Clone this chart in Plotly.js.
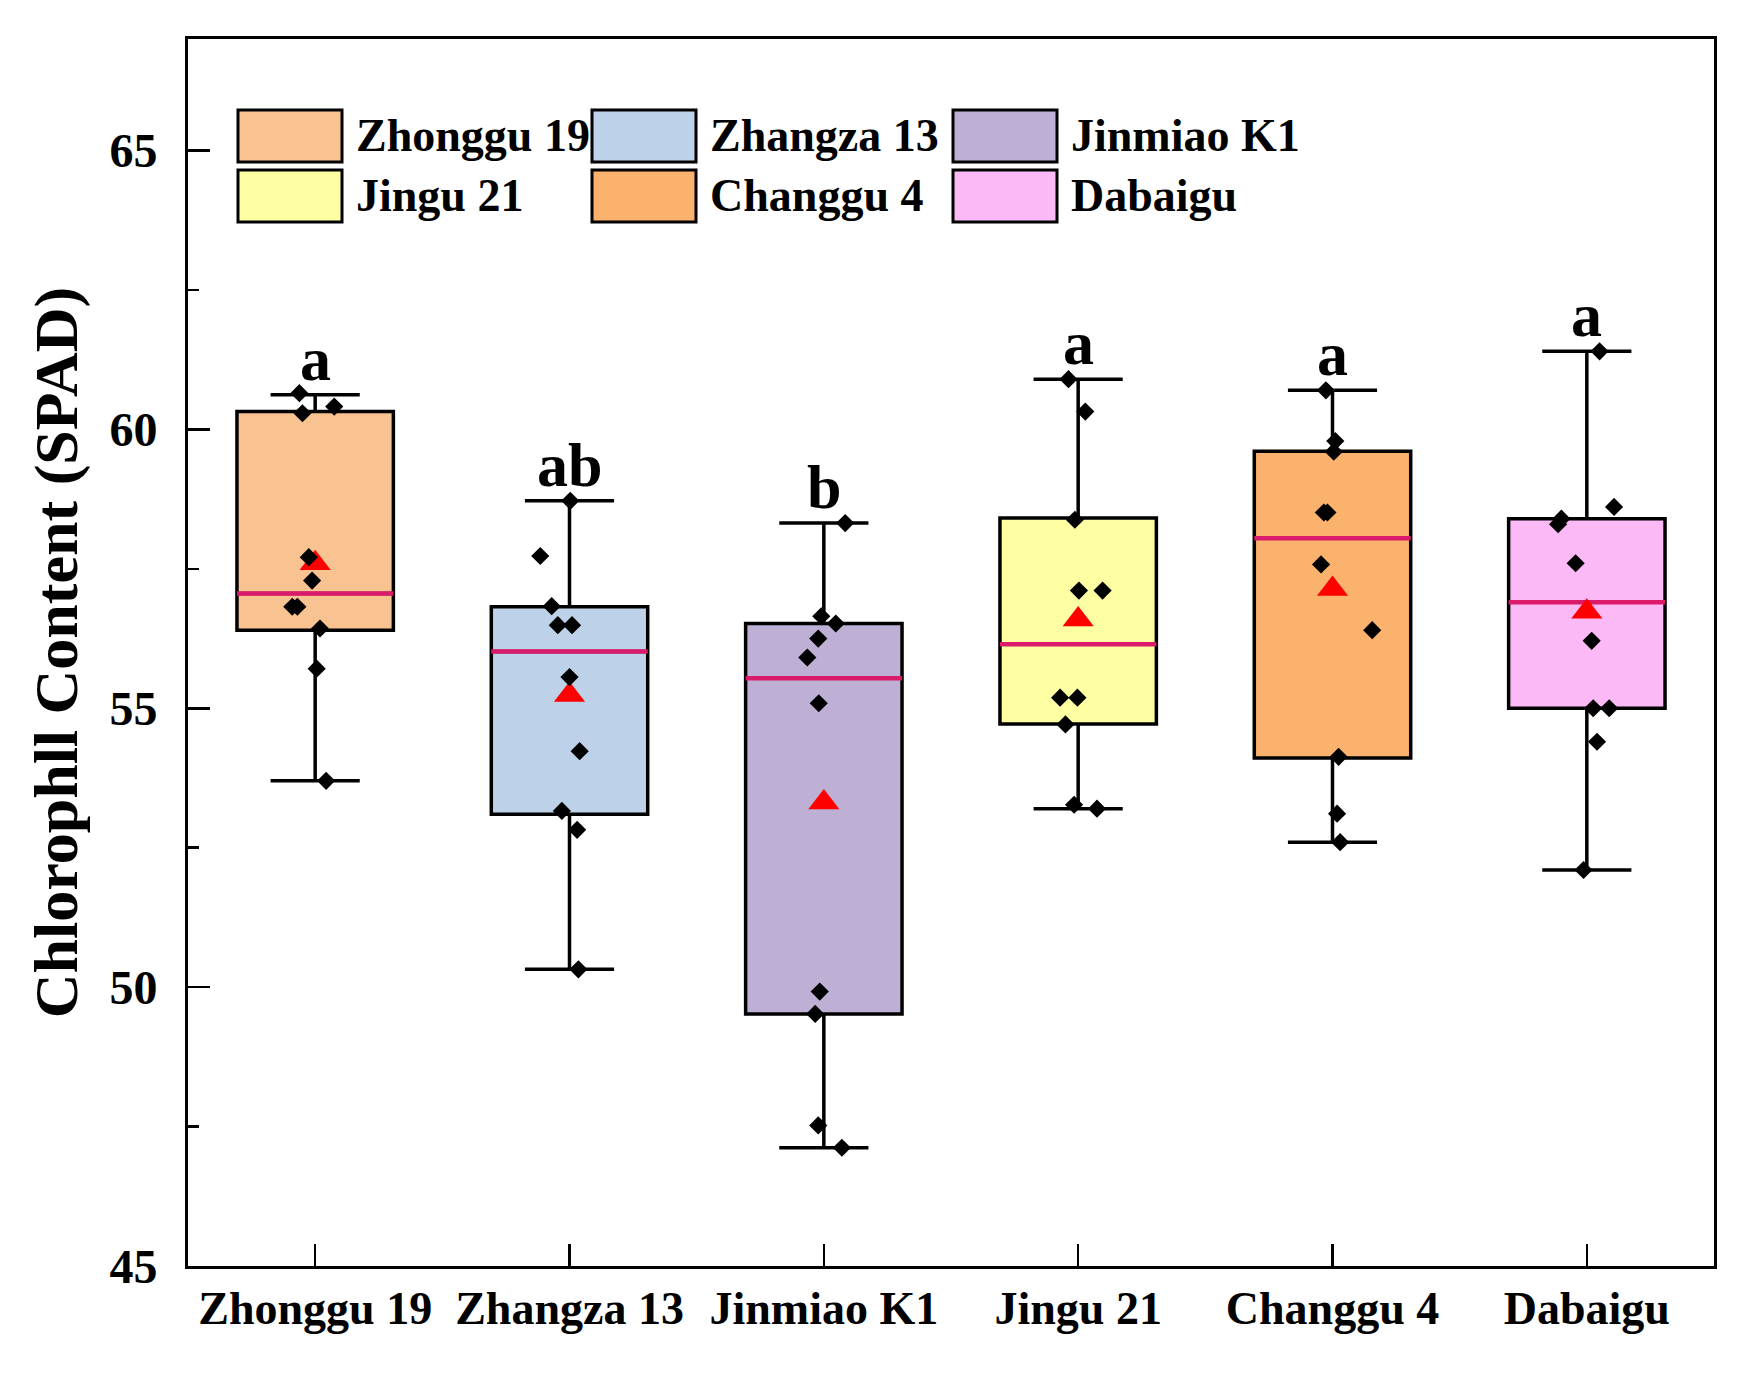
<!DOCTYPE html>
<html>
<head>
<meta charset="utf-8">
<script src="https://cdn.plot.ly/plotly-3.0.1.min.js"></script>
<style>html,body{margin:0;padding:0;background:#fff;}</style>
</head>
<body>
<div id="chart" style="width:1753px;height:1379px;"></div>
<script>
// ---- data ----
const categories = ['Zhonggu 19', 'Zhangza 13', 'Jinmiao K1', 'Jingu 21', 'Changgu 4', 'Dabaigu'];
const q1Values     = [56.40, 53.10, 49.52, 54.72, 54.11, 55.00];
const medianValues = [57.06, 56.02, 55.54, 56.15, 58.05, 56.90];
const q3Values     = [60.32, 56.82, 56.52, 58.41, 59.61, 58.40];
const lowerWhisker = [53.70, 50.32, 47.12, 53.20, 52.60, 52.10];
const upperWhisker = [60.62, 58.72, 58.32, 60.90, 60.70, 61.40];
const meanValues   = [57.60, 55.24, 53.31, 56.59, 57.14, 56.73];
const letters      = ['a', 'ab', 'b', 'a', 'a', 'a'];

const zhonggu19 = [60.65, 60.41, 60.29, 57.71, 57.29, 56.82, 56.82, 56.43, 55.71, 53.70];
const zhangza13 = [58.72, 57.73, 56.83, 56.49, 56.49, 55.56, 54.23, 53.16, 52.82, 50.32];
const jinmiaoK1 = [58.32, 56.65, 56.52, 56.25, 55.91, 55.09, 49.92, 49.52, 47.52, 47.12];
const jingu21   = [60.90, 60.32, 58.38, 57.11, 57.11, 55.19, 55.19, 54.71, 53.27, 53.20];
const changgu4  = [60.70, 59.79, 59.60, 58.51, 58.51, 57.58, 56.40, 54.13, 53.11, 52.60];
const dabaigu   = [61.40, 58.61, 58.40, 58.30, 57.60, 56.21, 55.00, 55.00, 54.40, 52.10];
// horizontal jitter of each point (category units)
const jitterZhonggu19 = [-0.062, 0.075, -0.050, -0.025, -0.012, -0.090, -0.070, 0.019, 0.006, 0.043];
const jitterZhangza13 = [0.003, -0.115, -0.070, -0.046, 0.010, 0.000, 0.040, -0.030, 0.030, 0.035];
const jitterJinmiaoK1 = [0.084, -0.010, 0.047, -0.022, -0.065, -0.020, -0.016, -0.034, -0.022, 0.071];
const jitterJingu21   = [-0.038, 0.028, -0.013, 0.003, 0.096, -0.071, -0.003, -0.050, -0.016, 0.074];
const jitterChanggu4  = [-0.026, 0.011, 0.005, -0.034, -0.020, -0.045, 0.156, 0.024, 0.018, 0.030];
const jitterDabaigu   = [0.050, 0.107, -0.100, -0.113, -0.044, 0.019, 0.025, 0.088, 0.040, -0.013];

const pointSets = [zhonggu19, zhangza13, jinmiaoK1, jingu21, changgu4, dabaigu];
const jitterSets = [jitterZhonggu19, jitterZhangza13, jitterJinmiaoK1, jitterJingu21, jitterChanggu4, jitterDabaigu];

// ---- styles ----
const fillColors = ['#F9C291', '#BDD2E8', '#BEB0D5', '#FEFEA2', '#FBB26C', '#FBB9F6'];
const medianColor = '#DC1A6C';
const FONT = 'Liberation Serif, Times New Roman, serif';
const BOX_W = 0.615;
const positions = categories.map((c, i) => i);

const traces = [];
categories.forEach((cat, i) => {
  traces.push({
    type: 'box',
    name: cat,
    x: [positions[i]],
    q1: [q1Values[i]],
    median: [medianValues[i]],
    q3: [q3Values[i]],
    lowerfence: [lowerWhisker[i]],
    upperfence: [upperWhisker[i]],
    width: BOX_W,
    whiskerwidth: 0.57,
    fillcolor: fillColors[i],
    line: {color: '#000000', width: 3.5},
    boxpoints: false,
    hoverinfo: 'skip',
    showlegend: false
  });
});

// median lines in pink
const mx = [], my = [];
categories.forEach((c, i) => {
  mx.push(positions[i] - BOX_W / 2, positions[i] + BOX_W / 2, null);
  my.push(medianValues[i], medianValues[i], null);
});
traces.push({type: 'scatter', mode: 'lines', x: mx, y: my,
  line: {color: medianColor, width: 4.5}, hoverinfo: 'skip', showlegend: false});

// mean triangles
traces.push({type: 'scatter', mode: 'markers', x: positions, y: meanValues,
  marker: {symbol: 'triangle-up', size: 27, color: '#FF0000', line: {width: 0}},
  hoverinfo: 'skip', showlegend: false});

// raw points
const px = [], py = [];
pointSets.forEach((vals, i) => {
  vals.forEach((v, k) => { px.push(positions[i] + jitterSets[i][k]); py.push(v); });
});
traces.push({type: 'scatter', mode: 'markers', x: px, y: py,
  marker: {symbol: 'diamond', size: 14, color: '#000000', line: {width: 0}},
  hoverinfo: 'skip', showlegend: false});

// ---- layout ----
const W = 1753, H = 1379;
const mL = 188, mR = 39, mT = 39, mB = 113;
const pw = W - mL - mR, ph = H - mT - mB;
const px2paper = X => (X - mL) / pw;
const py2paper = Y => (H - mB - Y) / ph;

const shapes = [];
const annotations = [];

// significance letters
categories.forEach((c, i) => {
  annotations.push({x: positions[i], y: upperWhisker[i], xref: 'x', yref: 'y',
    text: letters[i], showarrow: false, yanchor: 'bottom', xanchor: 'center', yshift: 0,
    font: {family: FONT, size: 62, weight: 'bold', color: '#000'}});
});

// legend (2 rows x 3 columns)
const legColX = [238, 592, 953];
const legRowY = [110, 170];
const swW = 104, swH = 52;
categories.forEach((c, i) => {
  const col = i % 3, row = Math.floor(i / 3);
  const x0 = legColX[col], y0 = legRowY[row];
  shapes.push({type: 'rect', xref: 'paper', yref: 'paper',
    x0: px2paper(x0), x1: px2paper(x0 + swW), y0: py2paper(y0 + swH), y1: py2paper(y0),
    fillcolor: fillColors[i], line: {color: '#000', width: 3}});
  annotations.push({xref: 'paper', yref: 'paper', x: px2paper(x0 + swW + 12), y: py2paper(y0 + swH / 2),
    xanchor: 'left', yanchor: 'middle', showarrow: false, text: c,
    font: {family: FONT, size: 46, weight: 'bold', color: '#000'}});
});

const layout = {
  width: W, height: H,
  margin: {l: mL, r: mR, t: mT, b: mB, pad: 0},
  paper_bgcolor: '#ffffff', plot_bgcolor: '#ffffff',
  font: {family: FONT, color: '#000000'},
  showlegend: false,
  boxmode: 'overlay',
  xaxis: {
    range: [-0.5, 5.5], tickmode: 'array', tickvals: positions, ticktext: categories,
    ticks: 'inside', ticklen: 22, tickwidth: 2.5, tickcolor: '#000',
    showline: true, linewidth: 3, linecolor: '#000', mirror: true,
    showgrid: false, zeroline: false, automargin: false,
    tickfont: {family: FONT, size: 46, weight: 'bold', color: '#000'}
  },
  yaxis: {
    range: [45, 67], tick0: 45, dtick: 5,
    ticks: 'inside', ticklen: 22, tickwidth: 2.5, tickcolor: '#000',
    minor: {dtick: 2.5, tick0: 45, ticks: 'inside', ticklen: 11, tickwidth: 2.5, tickcolor: '#000', showgrid: false},
    showline: true, linewidth: 3, linecolor: '#000', mirror: true,
    showgrid: false, zeroline: false, automargin: false,
    ticklabelstandoff: 18,
    tickfont: {family: FONT, size: 48, weight: 'bold', color: '#000'},
    title: {text: 'Chlorophll Content (SPAD)', standoff: 12,
      font: {family: FONT, size: 62, weight: 'bold', color: '#000'}}
  },
  shapes: shapes,
  annotations: annotations
};

Plotly.newPlot('chart', traces, layout, {staticPlot: true, displayModeBar: false});
</script>
</body>
</html>
